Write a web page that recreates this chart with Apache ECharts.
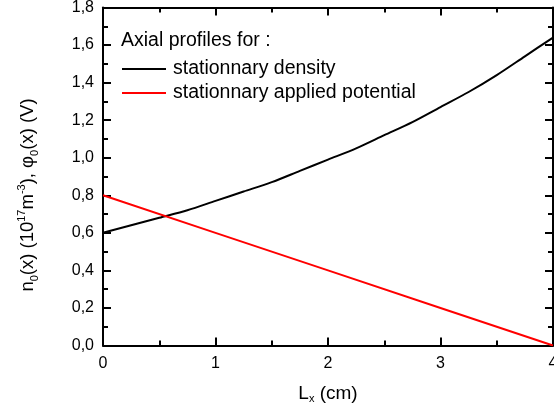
<!DOCTYPE html>
<html>
<head>
<meta charset="utf-8">
<style>
  html, body { margin: 0; padding: 0; background: #fff; }
  #chart { width: 554px; height: 414px; }
</style>
<script src="https://cdn.jsdelivr.net/npm/echarts@6/dist/echarts.min.js"></script>
</head>
<body>
<div id="chart"></div>
<script>
// Axial position along the device (cm)
const xPositions = [0, 0.25, 0.5, 0.75, 1, 1.25, 1.5, 1.75, 2, 2.25, 2.5, 2.75, 3, 3.25, 3.5, 3.75, 4];
// Stationary density n0(x), units of 1e17 m^-3
const densityValues = [0.60, 0.64, 0.68, 0.72, 0.77, 0.82, 0.87, 0.93, 0.99, 1.05, 1.12, 1.19, 1.27, 1.35, 1.44, 1.54, 1.64];
// Stationary applied potential phi0(x), volts
const potentialX = [0, 1, 2, 3, 4];
const potentialValues = [0.80, 0.60, 0.40, 0.20, 0.00];

const seriesNames = ['stationnary density', 'stationnary applied potential'];
const legendTitle = 'Axial profiles for :';

const FONT = '"Liberation Sans", Arial, sans-serif';
const pairs = (xs, ys) => xs.map((x, i) => [x, ys[i]]);
const comma = v => v.toFixed(1).replace('.', ',');

const baseX = {
  type: 'value', min: 0, max: 4, interval: 1,
  axisLine: { show: true, onZero: false, lineStyle: { color: '#000', width: 2 } },
  axisTick: { show: true, inside: true, length: 8, lineStyle: { color: '#000', width: 2 } },
  minorTick: { show: true, splitNumber: 2, length: 5, lineStyle: { color: '#000', width: 2 } },
  splitLine: { show: false }
};
const baseY = {
  type: 'value', min: 0, max: 1.8, interval: 0.2,
  axisLine: { show: true, onZero: false, lineStyle: { color: '#000', width: 2 } },
  axisTick: { show: true, inside: true, length: 8, lineStyle: { color: '#000', width: 2 } },
  minorTick: { show: true, splitNumber: 2, length: 5, lineStyle: { color: '#000', width: 2 } },
  splitLine: { show: false }
};

const chart = echarts.init(document.getElementById('chart'), null, { renderer: 'canvas' });
chart.setOption({
  animation: false,
  backgroundColor: '#fff',
  grid: { left: 103, right: 1, top: 7.5, bottom: 68.5, outerBoundsMode: 'none', containLabel: false },
  xAxis: [
    Object.assign({}, baseX, {
      position: 'bottom',
      axisLabel: { color: '#000', fontFamily: FONT, fontSize: 16, margin: 10 },
      name: '{m|L}{s|x}{m| (cm)}',
      nameLocation: 'middle',
      nameGap: 37,
      nameTextStyle: {
        fontFamily: FONT,
        rich: {
          m: { fontFamily: FONT, fontSize: 19, color: '#000', lineHeight: 22, verticalAlign: 'middle' },
          s: { fontFamily: FONT, fontSize: 11, color: '#000', lineHeight: 10, verticalAlign: 'bottom' }
        }
      }
    }),
    Object.assign({}, baseX, { position: 'top', axisLabel: { show: false } })
  ],
  yAxis: [
    Object.assign({}, baseY, {
      position: 'left',
      axisLabel: { color: '#000', fontFamily: FONT, fontSize: 16, margin: 9, formatter: comma }
    }),
    Object.assign({}, baseY, { position: 'right', axisLabel: { show: false } })
  ],
  legend: {
    orient: 'vertical',
    left: 117,
    top: 54,
    itemGap: 4,
    itemWidth: 44,
    itemHeight: 2,
    icon: 'rect',
    data: seriesNames,
    textStyle: { fontFamily: FONT, fontSize: 19.5, color: '#000', padding: [0, 0, 0, 2] }
  },
  graphic: [
    {
      type: 'text',
      left: 121, top: 31,
      style: { text: legendTitle, font: '19.5px ' + FONT, fill: '#000' }
    },
    {
      type: 'text',
      x: 28, y: 195,
      rotation: Math.PI / 2,
      style: {
        text: '{m|n}{s|0}{m|(x) (10}{p|17}{m|m}{p|-3}{m|), \u03c6}{s|0}{m|(x) (V)}',
        align: 'center',
        verticalAlign: 'middle',
        rich: {
          m: { fontFamily: FONT, fontSize: 18.5, fill: '#000', lineHeight: 24, verticalAlign: 'middle' },
          s: { fontFamily: FONT, fontSize: 11, fill: '#000', lineHeight: 11, verticalAlign: 'bottom' },
          p: { fontFamily: FONT, fontSize: 11, fill: '#000', lineHeight: 11, verticalAlign: 'top' }
        }
      }
    }
  ],
  series: [
    {
      name: seriesNames[0],
      type: 'line',
      data: pairs(xPositions, densityValues),
      smooth: 0.3,
      showSymbol: false,
      lineStyle: { color: '#000', width: 2 },
      itemStyle: { color: '#000' }
    },
    {
      name: seriesNames[1],
      type: 'line',
      data: pairs(potentialX, potentialValues),
      showSymbol: false,
      lineStyle: { color: '#ff0000', width: 2 },
      itemStyle: { color: '#ff0000' }
    }
  ]
});
</script>
</body>
</html>
